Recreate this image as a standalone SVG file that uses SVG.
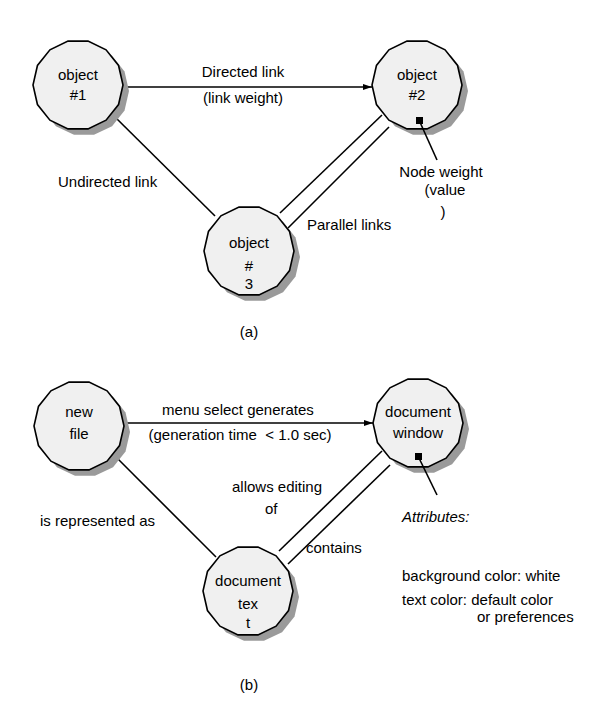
<svg xmlns="http://www.w3.org/2000/svg" xmlns:xlink="http://www.w3.org/1999/xlink" width="608" height="716" viewBox="0 0 608 716">
<style>
text{font-family:"Liberation Sans",Arial,sans-serif;font-size:15px;fill:#000}
.c{text-anchor:middle}
.node{fill:#f0f0f0;stroke:#000;stroke-width:1.6}
.shadow{fill:#9a9a9a;stroke:none}
.link{stroke:#000;stroke-width:1.6;fill:none}
</style>
<defs>
<polygon id="poly" points="45,0 40.54,19.52 28.06,35.18 10.01,43.87 -10.01,43.87 -28.06,35.18 -40.54,19.52 -45,0 -40.54,-19.52 -28.06,-35.18 -10.01,-43.87 10.01,-43.87 28.06,-35.18 40.54,-19.52"/>
<marker id="arr" markerWidth="10" markerHeight="8" refX="9" refY="4" orient="auto" markerUnits="userSpaceOnUse">
<path d="M0,1 L9,4 L0,7 Z" fill="#000"/>
</marker>
</defs>
<rect width="608" height="716" fill="#fff"/>
<g id="connectors">
<line class="link" x1="122" y1="87" x2="372" y2="87" marker-end="url(#arr)"/>
<line class="link" x1="115" y1="117" x2="215" y2="216"/>
<line class="link" x1="280" y1="213" x2="382" y2="115"/>
<line class="link" x1="288" y1="228" x2="389" y2="127"/>
<line class="link" x1="124" y1="423" x2="373" y2="423" marker-end="url(#arr)"/>
<line class="link" x1="116" y1="457" x2="216" y2="557"/>
<line class="link" x1="279" y1="551" x2="382" y2="451"/>
<line class="link" x1="288" y1="564" x2="390" y2="465"/>
</g>
<g id="node1">
<use xlink:href="#poly" class="shadow" transform="translate(84,91)"/>
<use xlink:href="#poly" class="node" transform="translate(78,85)"/>
<text class="c" x="78" y="80">object</text>
<text class="c" x="78" y="100">#1</text>
</g>
<g id="node2">
<use xlink:href="#poly" class="shadow" transform="translate(423,91)"/>
<use xlink:href="#poly" class="node" transform="translate(417,85)"/>
<text class="c" x="417" y="80">object</text>
<text class="c" x="417" y="100">#2</text>
</g>
<g id="node3">
<use xlink:href="#poly" class="shadow" transform="translate(255,257)"/>
<use xlink:href="#poly" class="node" transform="translate(249,251)"/>
<text class="c" x="249" y="248">object</text>
<text class="c" x="249" y="271">#</text>
<text class="c" x="249" y="289">3</text>
</g>
<g id="nodeweight">
<rect x="416" y="117" width="7" height="7" fill="#000"/>
<line class="link" x1="419" y1="120" x2="437" y2="160"/>
<text class="c" x="441" y="177">Node weight</text>
<text class="c" x="445" y="195">(value</text>
<text class="c" x="443" y="217">)</text>
</g>
<g id="labels-a">
<text class="c" x="243" y="77">Directed link</text>
<text class="c" x="243" y="103">(link weight)</text>
<text x="58" y="187">Undirected link</text>
<text x="307" y="230">Parallel links</text>
<text class="c" x="249" y="337">(a)</text>
</g>
<g id="newfile">
<use xlink:href="#poly" class="shadow" transform="translate(85,432)"/>
<use xlink:href="#poly" class="node" transform="translate(79,426)"/>
<text class="c" x="79" y="417">new</text>
<text class="c" x="79" y="439">file</text>
</g>
<g id="docwindow">
<use xlink:href="#poly" class="shadow" transform="translate(424,429)"/>
<use xlink:href="#poly" class="node" transform="translate(418,423)"/>
<text class="c" x="418" y="417">document</text>
<text class="c" x="418" y="438">window</text>
</g>
<g id="doctext">
<use xlink:href="#poly" class="shadow" transform="translate(254,597)"/>
<use xlink:href="#poly" class="node" transform="translate(248,591)"/>
<text class="c" x="248" y="586">document</text>
<text class="c" x="248" y="609">tex</text>
<text class="c" x="248" y="628">t</text>
</g>
<g id="attributes">
<rect x="415" y="453" width="7" height="7" fill="#000"/>
<line class="link" x1="418" y1="456" x2="437" y2="495"/>
<text x="402" y="522" font-style="italic">Attributes:</text>
<text x="402" y="581">background color: white</text>
<text x="402" y="605">text color: default color</text>
<text x="477" y="622">or preferences</text>
</g>
<g id="labels-b">
<text class="c" x="238" y="415">menu select generates</text>
<text class="c" x="240" y="440" style="white-space:pre">(generation time  &lt; 1.0 sec)</text>
<text x="40" y="526">is represented as</text>
<text x="232" y="492">allows editing</text>
<text x="265" y="514">of</text>
<text x="306" y="553">contains</text>
<text class="c" x="249" y="690">(b)</text>
</g>
</svg>
